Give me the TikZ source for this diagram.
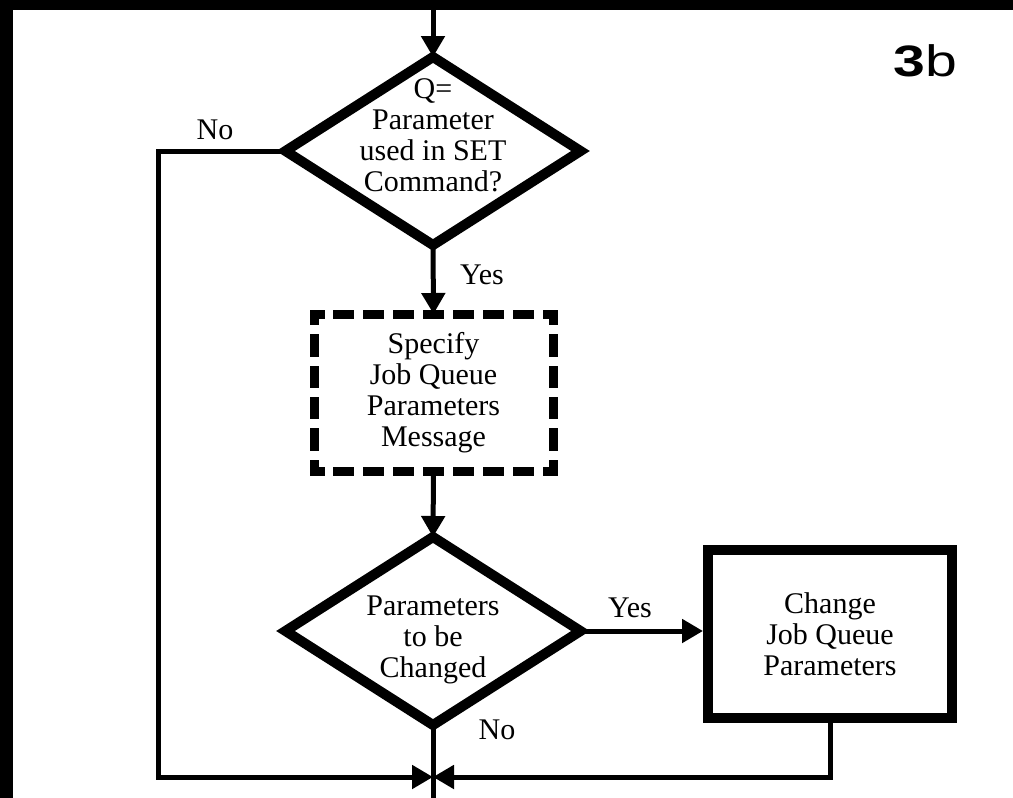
\documentclass[tikz,border=0pt]{standalone}
\usepackage{fontspec}
\setmainfont{Liberation Serif}
\newfontfamily\helv{Liberation Sans}
\usetikzlibrary{shapes.geometric,arrows.meta}
\begin{document}
\begin{tikzpicture}[x=1pt,y=-1pt,
  conn/.style={line width=5pt},
  arr/.style={conn,-{Triangle[length=21pt,width=23pt]}},
  txt/.style={align=center,font=\fontsize{30}{31}\selectfont,inner sep=0pt},
  dia/.style={draw,shape=diamond,line width=10pt,minimum width=295pt,minimum height=188pt,inner sep=0pt,outer sep=0pt},
  dbox/.style={txt,minimum width=239pt,minimum height=157pt,outer sep=0pt},
  dside/.style={line width=9pt,line cap=rect},
  hdash/.style={dside,dash pattern=on 12pt off 17.875pt,dash phase=6pt},
  vdash/.style={dside,dash pattern=on 13.4pt off 18pt,dash phase=6.7pt},
  rbox/.style={draw,line width=10pt,minimum width=244pt,minimum height=168pt,txt}
]
\useasboundingbox (0,0) rectangle (1013,798);
\fill (0,0) rectangle (1013,10);
\fill (0,0) rectangle (13,798);

\node[dia] (d1) at (433,151) {};
\node[txt] (t1) at (433,135) {Q=\\Parameter\\used in SET\\Command?};
\node[dbox] (b) at (433.5,392.5) {Specify\\Job Queue\\Parameters\\Message};
\node[dia] (d2) at (433,631) {};
\node[txt] (t2) at (433,640) {Parameters\\to be\\Changed};
\node[rbox] (r) at (830,634) {Change\\Job Queue\\Parameters};

\draw[hdash] (b.north west) -- (b.north east);
\draw[hdash] (b.south west) -- (b.south east);
\draw[vdash] (b.north west) -- (b.south west);
\draw[vdash] (b.north east) -- (b.south east);

\node[txt] (no1) at (215,130) {No};
\node[txt] (yes1) at (482,275) {Yes};
\node[txt] (yes2) at (630,608) {Yes};
\node[txt] (no2) at (497,730) {No};
\node[font=\helv\fontsize{44}{44}\selectfont,inner sep=0pt] (lab) at (925.5,61) {\scalebox{1.3}[1]{\textbf{3}b}};

\coordinate (top) at (433,10);
\coordinate (j) at (433,777);
\coordinate (lc) at (158,777);
\coordinate (bot) at (433,798);

\draw[arr] (top) -- (d1.north);
\draw[arr] (d1.south) -- (b.north);
\draw[arr] (b.south) -- (d2.north);
\draw[arr] (d2.east) -- (d2.east -| r.west);
\draw[arr] (d1.west) -| (lc) -- (j);
\draw[arr] (r.south) |- (j);
\draw[conn] (d2.south) -- (bot);
\end{tikzpicture}
\end{document}
